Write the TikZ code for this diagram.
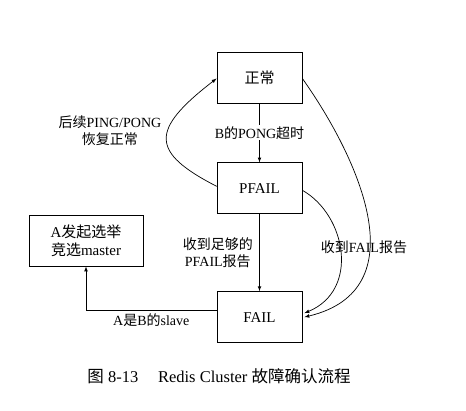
\documentclass[tikz,border=0pt]{standalone}
\usepackage{fontspec}
\setmainfont{Liberation Serif}
\newfontfamily\cjk{Noto Sans CJK SC}
\newcommand{\zh}[1]{{\cjk #1}}
\usetikzlibrary{arrows,positioning}

\begin{document}
\begin{tikzpicture}[x=1pt,y=-1pt,align=center,font=\fontsize{14}{17}\selectfont]
\tikzstyle{state}=[rectangle,draw=black,line width=0.8pt,minimum width=85pt,minimum height=51pt,font=\fontsize{15}{18}\selectfont]
\tikzstyle{trans}=[->,>=latex,line width=0.7pt]
\useasboundingbox (0,0) rectangle (466,410);

\node[state] (normal) at (259.5,77.5) {\zh{正常}};
\node[state] (pfail) [below = 59pt of normal] {PFAIL};
\node[state] (fail) [below = 77pt of pfail] {FAIL};
\node[state, minimum width=114pt] (elect) at (86,240.5) {A\zh{发起选举}\\\zh{竞选}master};

\draw[trans] (normal) -- node[fill=white,inner sep=1pt] {B\zh{的}PONG\zh{超时}} (pfail);
\draw[trans] (pfail) -- node[left=3pt] {\zh{收到足够的}\\PFAIL\zh{报告}} (fail);
\draw[trans] ([yshift=2pt]pfail.west) .. controls (150,152) and (150,130) .. ([yshift=-1pt]normal.west)
  node[pos=0.58,left=3pt] {\zh{后续}PING/PONG\\\zh{恢复正常}};
\draw[trans] ([yshift=-1pt]normal.east) .. controls (360,160) and (418,290) .. ([xshift=2pt]fail.east);
\draw[trans] ([yshift=-2pt]pfail.east) .. controls (346,215) and (360,290) .. ([xshift=2pt,yshift=4pt]fail.east);
\node (failrep) at (364,247) {\zh{收到}FAIL\zh{报告}};
\draw[trans] ([yshift=7pt]fail.west) -| node[below,pos=0.25] {A\zh{是}B\zh{的}slave} (elect.south);

\node[font=\fontsize{16.5}{20}\selectfont] (caption) at (219,376) {\zh{图} 8-13\hspace{1.2em}Redis Cluster \zh{故障确认流程}};
\end{tikzpicture}
\end{document}
